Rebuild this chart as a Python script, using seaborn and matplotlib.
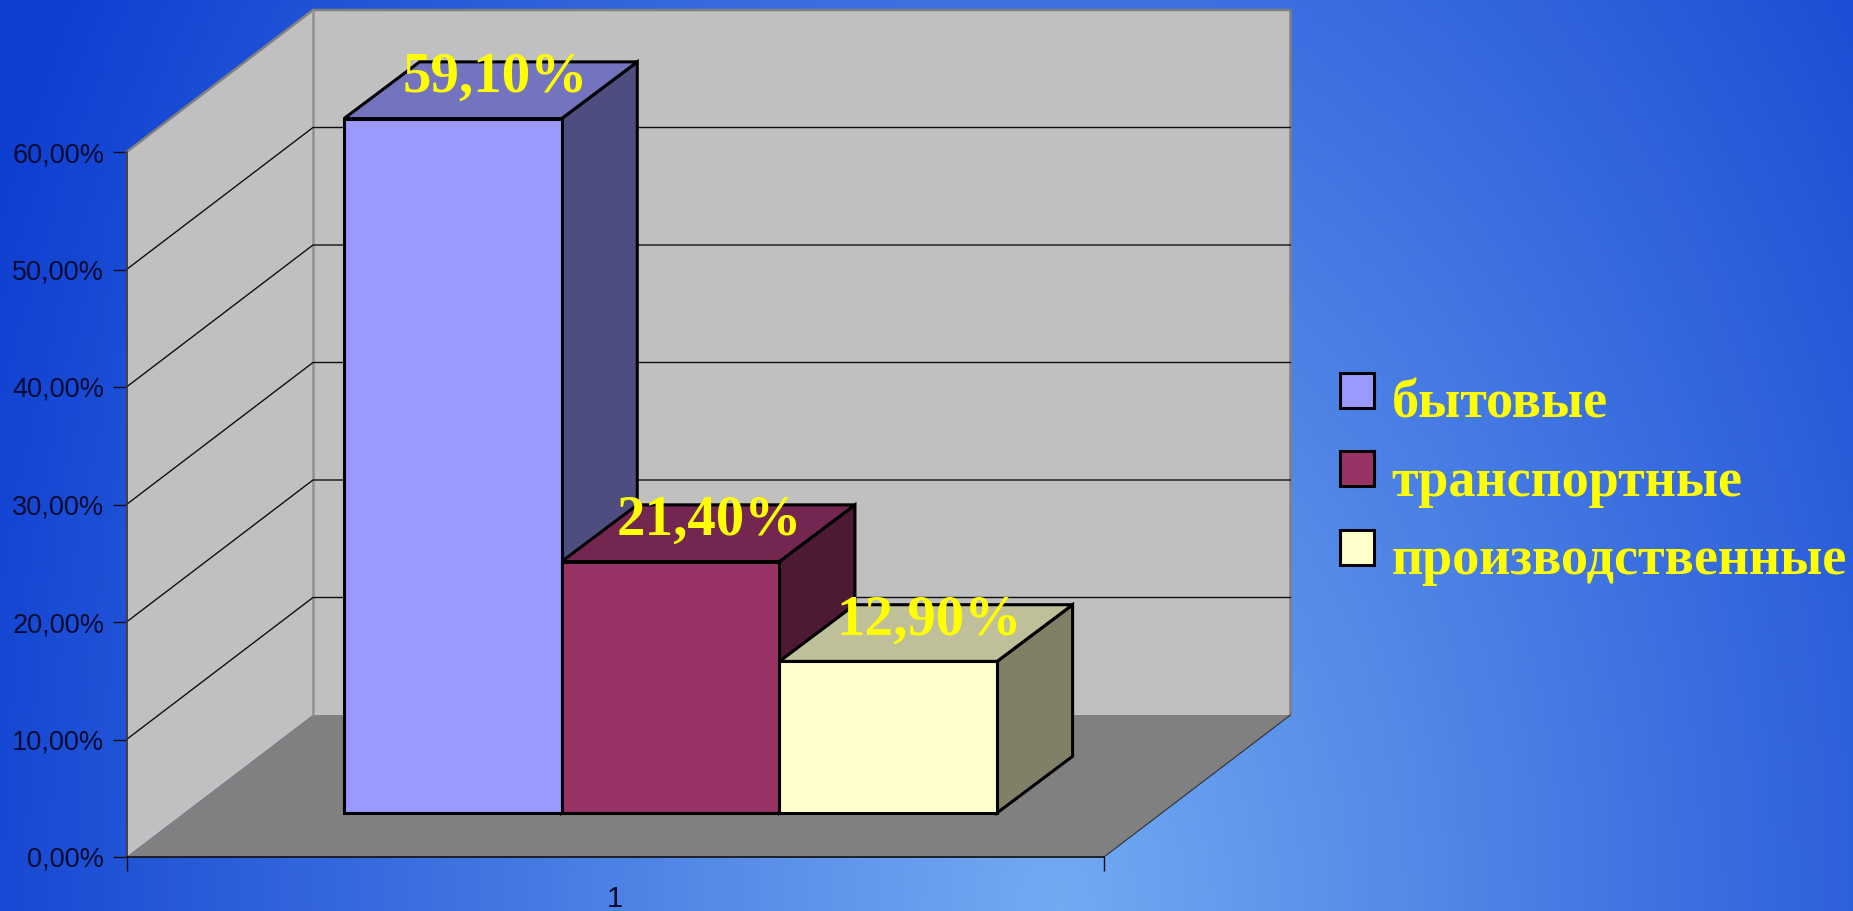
import numpy as np
import pandas as pd
import seaborn as sns
import matplotlib
matplotlib.use("Agg")
import matplotlib.pyplot as plt
from matplotlib.patches import Polygon

# data
kinds = ["бытовые", "транспортные", "производственные"]
values = [59.1, 21.4, 12.9]
group = ["1", "1", "1"]
y_ticks = [0, 10, 20, 30, 40, 50, 60]

front_colors = ["#9999ff", "#993366", "#ffffcc"]
top_colors = ["#7373bf", "#732650", "#bfbf99"]
side_colors = ["#4d4d80", "#4d1a33", "#808066"]
label_dx = [42, 39, 41]  # px, nudged off the bar centre

W, H = 1853, 911
sns.set_style("white")
plt.rcParams["font.family"] = ["Liberation Sans", "DejaVu Sans"]

df = pd.DataFrame({"group": group, "kind": kinds, "value": values})


def box(x0, x1, y0, y1):
    # pixel box (y from top) -> figure fraction rect
    return [x0 / W, 1 - y1 / H, (x1 - x0) / W, (y1 - y0) / H]


def pct(v):
    return f"{v:.2f}%".replace(".", ",")


fig = plt.figure(figsize=(W / 100, H / 100), dpi=100)

# background gradient
bg = fig.add_axes([0, 0, 1, 1], zorder=0)
xx, yy = np.meshgrid(np.linspace(0, 1, 500), np.linspace(0, 1, 300))
t = np.clip(np.sqrt(((xx - 0.57) / 0.62) ** 2 + ((yy - 1.0) / 1.9) ** 2), 0, 1)
inner = np.array([0.45, 0.67, 0.95])
outer = np.array([0.06, 0.25, 0.82])
img = inner + (outer - inner) * t[..., None]
bg.imshow(img, aspect="auto", extent=(0, 1, 0, 1), origin="upper")
bg.axis("off")

# walls and floor
frame = fig.add_axes(box(126.5, 1104, 152, 857), zorder=1)
frame.patch.set_visible(False)
frame.set_xlim(0, 1)
frame.set_ylim(0, 60)
DX, DY = 186.5 / 977.5, 142 / 11.75

wall_kw = dict(facecolor="#c0c0c0", edgecolor="none", clip_on=False)
frame.add_patch(Polygon([(0, 0), (DX, DY), (DX, 60 + DY), (0, 60)], **wall_kw))
frame.add_patch(Polygon([(DX, DY), (1 + DX, DY), (1 + DX, 60 + DY), (DX, 60 + DY)], **wall_kw))
frame.add_patch(Polygon([(0, 0), (1, 0), (1 + DX, DY), (DX, DY)], facecolor="#808080",
                        edgecolor="none", clip_on=False))
frame.plot([0, DX, 1 + DX, 1 + DX], [60, 60 + DY, 60 + DY, DY], color="#808080", lw=1.8, clip_on=False)
frame.plot([DX, DX], [DY, 60 + DY], color="#909090", lw=1.8, clip_on=False)
frame.plot([1, 1 + DX], [0, DY], color="#303030", lw=0.8, clip_on=False)
for v in y_ticks[1:-1]:
    frame.plot([0, DX, 1 + DX], [v, v + DY, v + DY], color="#101010", lw=1, clip_on=False)

frame.set_yticks(y_ticks)
frame.set_yticklabels([pct(v) for v in y_ticks], fontsize=19.5, color="#050a30")
frame.set_xticks([0, 1])
frame.set_xticklabels(["", ""])
frame.set_xticks([0.5], minor=True)
frame.set_xticklabels(group[:1], minor=True, fontsize=21, color="#050a30")
frame.tick_params(axis="y", length=10, width=1, color="#101010", left=True, pad=6)
frame.tick_params(axis="x", which="major", length=10, width=1, color="#101010", bottom=True)
frame.tick_params(axis="x", which="minor", length=0, pad=20)
for s in ["top", "right"]:
    frame.spines[s].set_visible(False)
frame.spines["left"].set_color("#303030")
frame.spines["left"].set_linewidth(1.2)
frame.spines["bottom"].set_color("#101010")
frame.spines["bottom"].set_linewidth(1.2)

# bars
ax = fig.add_axes(box(344, 997, 108, 813), zorder=2)
ax.patch.set_visible(False)
sns.barplot(data=df, x="group", y="value", hue="kind", hue_order=kinds, palette=front_colors,
            width=1, gap=0, edgecolor="black", linewidth=2.2, saturation=1, ax=ax)
ax.set_xlim(-0.5, 0.5)
ax.set_ylim(0, 60)
ax.set_xlabel("")
ax.set_ylabel("")
ax.set_xticks([])
ax.set_yticks([])
for s in ax.spines.values():
    s.set_visible(False)

bx, by = 75.6 / 653, 56.7 / 11.75
bars = [p for p in ax.patches if p.get_height() > 0]
for i, p in enumerate(bars):
    x0, x1, h = p.get_x(), p.get_x() + p.get_width(), p.get_height()
    edge = dict(edgecolor="black", linewidth=2.2, joinstyle="miter", clip_on=False, zorder=3 + i)
    ax.add_patch(Polygon([(x1, 0), (x1 + bx, by), (x1 + bx, h + by), (x1, h)], facecolor=side_colors[i], **edge))
    ax.add_patch(Polygon([(x0, h), (x0 + bx, h + by), (x1 + bx, h + by), (x1, h)], facecolor=top_colors[i], **edge))
    p.set_zorder(10 + i)
    p.set_clip_on(False)
    ax.text((x0 + x1) / 2 + label_dx[i] / 653, h + 41 / 11.75, pct(values[i]), ha="center", va="center",
            fontsize=41, fontweight="bold", family="Liberation Serif", color="#ffff00", zorder=20)

# legend
sns.move_legend(ax, "center left", bbox_to_anchor=(1340 / W, 1 - 475 / H), bbox_transform=fig.transFigure,
                title=None, frameon=False, fontsize=39, handlelength=0.62, handleheight=0.62,
                labelspacing=0.52, handletextpad=0.33, borderaxespad=0, borderpad=0)
leg = ax.get_legend()
leg.set_zorder(30)
for txt in leg.get_texts():
    txt.set_color("#ffff00")
    txt.set_family("Liberation Serif")
    txt.set_fontweight("bold")
    txt.set_y(-8)  # text sits a bit below the swatch

fig.savefig("out.png", dpi=100)
